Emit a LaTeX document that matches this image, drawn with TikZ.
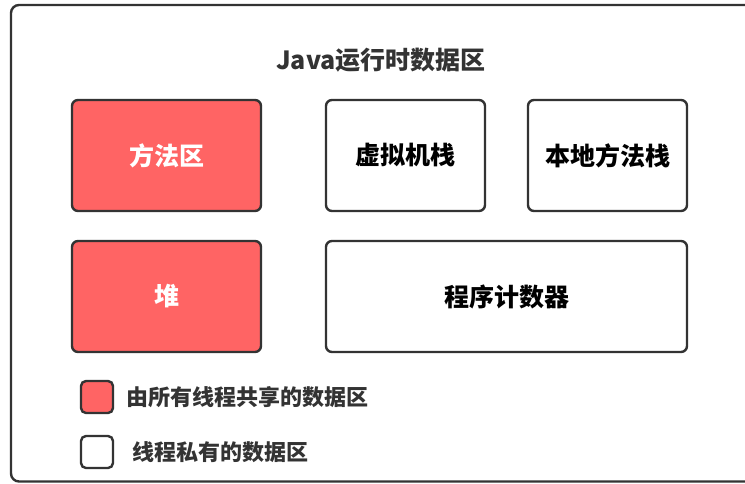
\documentclass[tikz,border=0pt]{standalone}
\usepackage{fontspec}
\newfontfamily\cjk{Noto Sans CJK SC}
\definecolor{redfill}{HTML}{FF6464}
\definecolor{edge}{HTML}{333333}
\begin{document}
\begin{tikzpicture}[x=1pt,y=-1pt,
  area/.style={draw=edge,line width=2.4pt,rounded corners=6pt,inner sep=0pt,
    minimum height=111pt,font=\cjk\bfseries\fontsize{25}{29}\selectfont},
  shared/.style={area,fill=redfill,text=white},
  private/.style={area,fill=white,text=black},
  legendbox/.style={draw=edge,line width=2.4pt,rounded corners=5pt,minimum width=32pt,minimum height=32pt,inner sep=0pt},
  legendtext/.style={anchor=west,inner sep=0pt,text=edge,font=\cjk\bfseries\fontsize{22}{26}\selectfont}]
\useasboundingbox (0,0) rectangle (745,483);
\fill[white] (0,0) rectangle (745,483);
\draw[edge,line width=2.4pt,rounded corners=8pt] (11,5) rectangle (765,481.5);
\node[text=edge,font=\cjk\bfseries\fontsize{25}{29}\selectfont] (title) at (381,60) {Java运行时数据区};
\node[shared,minimum width=189pt] (method) at (166.5,155.5) {方法区};
\node[private,minimum width=159pt] (vmstack) at (405.5,155.5) {虚拟机栈};
\node[private,minimum width=159pt] (native) at (607.5,155.5) {本地方法栈};
\node[shared,minimum width=189pt] (heap) at (166.5,296.5) {堆};
\node[private,minimum width=361pt] (pc) at (506.5,296.5) {程序计数器};
\node[legendbox,fill=redfill] (lshared) at (97,397) {};
\node[legendbox,fill=white] (lprivate) at (97,452) {};
\node[legendtext] (tshared) at (126,397) {由所有线程共享的数据区};
\node[legendtext] (tprivate) at (132,452) {线程私有的数据区};
\end{tikzpicture}
\end{document}
